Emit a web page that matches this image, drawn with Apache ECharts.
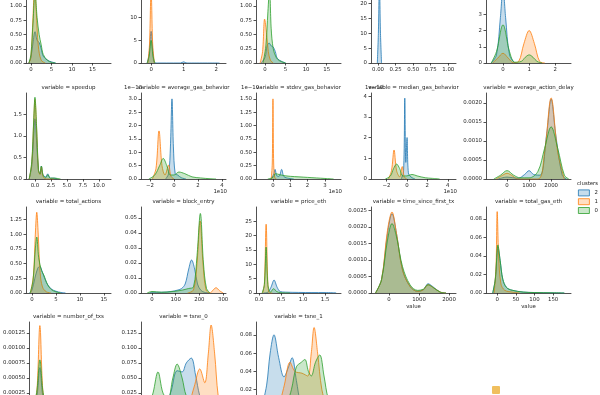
<!DOCTYPE html>
<html>
<head>
<meta charset="utf-8">
<script src="https://cdn.jsdelivr.net/npm/echarts@6/dist/echarts.min.js"></script>
<style>
html,body{margin:0;padding:0;background:#fff;overflow:hidden;width:600px;height:395px;}
#chart{position:absolute;left:0;top:-30px;width:600px;height:470px;}
</style>
</head>
<body>
<div id="chart"></div>
<script>
// ---------------- DATA ----------------
const clusters = ['2', '1', '0'];

// Row 1 (titles cut off above the picture)
const p1_c2 = [[-0.5,0],[0,0.1],[0.5,0.35],[1,0.55],[1.5,0.4],[2,0.36],[2.5,0.25],[3,0.12],[4,0.05],[5,0.02],[6,0]];
const p1_c1 = [[-0.5,0],[0,0.1],[0.5,0.8],[0.9,1.35],[1.3,0.9],[1.8,0.3],[2.5,0.05],[3.5,0]];
const p1_c0 = [[-0.5,0],[0,0.15],[0.5,0.7],[1,1.25],[1.5,0.8],[2,0.5],[2.5,0.32],[3,0.15],[4,0.05],[5,0.01],[6,0]];
const p1_xt = [0,5,10,15];
const p1_yt = [0,0.25,0.5,0.75,1,1.25,1.5];

const p2_c2 = [[-0.12,0],[-0.06,2],[0,7],[0.06,2],[0.12,0],[0.9,0],[1,0.25],[1.1,0],[2.1,0]];
const p2_c1 = [[-0.1,0],[-0.05,4],[0,16],[0.05,4],[0.1,0]];
const p2_c0 = [[-0.12,0],[-0.06,1.5],[0,5],[0.06,1.5],[0.12,0]];
const p2_xt = [0,1,2];
const p2_yt = [0,5,10,15];

const p3_c2 = [[-1,0],[0,0.1],[0.5,0.3],[1,0.35],[1.5,0.3],[2,0.28],[2.5,0.2],[3,0.08],[4,0.03],[5,0]];
const p3_c1 = [[-1.2,0],[-0.6,0.2],[-0.1,0.77],[0.4,0.5],[0.8,0.2],[1.3,0.05],[2,0]];
const p3_c0 = [[-0.5,0],[0.2,0.3],[0.7,0.9],[1.1,1.3],[1.5,0.6],[2,0.25],[2.7,0.1],[3.5,0.04],[5,0]];
const p3_xt = [0,5,10,15];
const p3_yt = [0,0.25,0.5,0.75,1,1.25,1.5];

const p4_c2 = [[-0.01,0],[0.005,10],[0.02,27],[0.035,10],[0.05,0]];
const p4_c1 = [];
const p4_c0 = [];
const p4_xt = [0,0.25,0.5,0.75,1];
const p4_yt = [0,5,10,15,20,25];

const p5_c2 = [[-0.45,0],[-0.25,0.5],[-0.1,2.8],[0,4.6],[0.1,2.8],[0.25,0.5],[0.45,0]];
const p5_c1 = [[-0.4,0],[-0.2,0.3],[0,0.6],[0.2,0.3],[0.4,0.02],[0.6,0.1],[0.8,1.2],[1,2.0],[1.2,1.2],[1.4,0.1],[1.6,0]];
const p5_c0 = [[-0.45,0],[-0.25,0.7],[0,2.35],[0.25,0.7],[0.45,0.05],[0.7,0.1],[0.85,0.35],[1,0.5],[1.15,0.35],[1.3,0.1],[1.5,0]];
const p5_xt = [0,1,2];
const p5_yt = [0,1,2,3,4,5];

// speedup
const speedup_c2 = [[-0.9,0],[-0.5,0.3],[-0.2,1.0],[0,1.4],[0.25,0.9],[0.55,0.2],[0.8,0.12],[1,0.3],[1.25,0.1],[1.7,0.05],[2,0.12],[2.4,0.02],[3,0.02],[3.5,0]];
const speedup_c1 = [[-0.9,0],[-0.5,0.35],[-0.2,1.3],[0,1.85],[0.25,1.2],[0.55,0.2],[0.8,0.1],[1,0.28],[1.3,0.05],[1.8,0],[3,0]];
const speedup_c0 = [[-0.9,0],[-0.5,0.4],[-0.2,1.35],[0,1.9],[0.25,1.25],[0.55,0.22],[0.8,0.12],[1,0.3],[1.3,0.08],[1.7,0.03],[2,0.1],[2.4,0.02],[3,0.02],[4,0]];
const speedup_xt = [0,2.5,5,7.5,10];
const speedup_yt = [0,0.5,1,1.5];

// average_gas_behavior (x in 1e10)
const avggas_c2 = [[-0.7,0],[-0.45,0.2],[-0.3,1.2],[-0.17,3.0],[-0.05,1.2],[0.1,0.2],[0.3,0.15],[0.6,0.05],[1,0]];
const avggas_c1 = [[-1.8,0],[-1.5,0.4],[-1.25,1.8],[-1.0,0.5],[-0.75,0.15],[-0.45,0.52],[-0.25,0.1],[0,0]];
const avggas_c0 = [[-2.1,0],[-1.6,0.15],[-1.2,0.5],[-0.9,0.77],[-0.6,0.5],[-0.3,0.15],[0,0.15],[0.4,0.26],[0.9,0.2],[1.5,0.08],[2.2,0.04],[3,0.01],[3.5,0]];
const avggas_xt = [-2,0,2,4];
const avggas_yt = [0,0.5,1,1.5,2,2.5,3];

// stdev_gas_behavior (x in 1e10)
const stdgas_c2 = [[-0.1,0],[0.05,0.1],[0.12,0.18],[0.22,0.06],[0.35,0.05],[0.5,0.18],[0.62,0.05],[0.8,0.02],[1.2,0]];
const stdgas_c1 = [[-0.1,0],[-0.04,0.3],[0,1.5],[0.04,0.3],[0.1,0.03],[0.2,0]];
const stdgas_c0 = [[-0.3,0],[0,0.03],[0.15,0.1],[0.4,0.08],[0.7,0.06],[1,0.05],[1.5,0.04],[2,0.03],[2.5,0.02],[3,0.01],[3.5,0]];
const stdgas_xt = [0,1,2,3];
const stdgas_yt = [0,0.25,0.5,0.75,1,1.25,1.5];

// median_gas_behavior (x in 1e10)
const medgas_c2 = [[-0.55,0],[-0.32,0.4],[-0.2,3.9],[-0.1,0.8],[0.02,2.0],[0.15,0.3],[0.4,0.1],[0.8,0]];
const medgas_c1 = [[-1.8,0],[-1.5,0.4],[-1.25,1.4],[-1.0,0.4],[-0.7,0.1],[-0.45,0.6],[-0.25,0.1],[0,0]];
const medgas_c0 = [[-2.1,0],[-1.6,0.15],[-1.3,0.5],[-1.0,0.72],[-0.7,0.5],[-0.4,0.15],[0,0.15],[0.5,0.22],[1,0.15],[1.8,0.06],[2.5,0.03],[3.2,0]];
const medgas_xt = [-2,0,2,4];
const medgas_yt = [0,1,2,3,4];

// average_action_delay
const delay_c2 = [[-400,0],[0,0.00005],[500,0.00002],[800,0.00012],[1000,0.00022],[1200,0.00012],[1500,0.0001],[1800,0.0012],[2000,0.0021],[2200,0.0012],[2500,0.0001],[2700,0]];
const delay_c1 = [[-500,0],[-200,0.0001],[0,0.00015],[200,0.0001],[500,0],[1400,0],[1700,0.0007],[2000,0.00213],[2300,0.0007],[2600,0]];
const delay_c0 = [[-600,0],[-300,0.0001],[0,0.00022],[300,0.0001],[600,0.00003],[1000,0.00003],[1400,0.0002],[1700,0.0008],[2000,0.00137],[2300,0.0008],[2600,0.0001],[2800,0]];
const delay_xt = [0,1000,2000];
const delay_yt = [0,0.0005,0.001,0.0015,0.002];

// total_actions
const actions_c2 = [[-0.5,0],[0,0.05],[0.6,0.25],[1.2,0.42],[1.6,0.45],[2.2,0.35],[3,0.18],[4,0.07],[5,0.03],[6,0.01],[7,0]];
const actions_c1 = [[-0.3,0],[0.3,0.3],[0.7,1.0],[1,1.37],[1.3,1.0],[1.7,0.35],[2.2,0.1],[3,0.02],[4,0]];
const actions_c0 = [[-0.4,0],[0.2,0.2],[0.7,0.75],[1,0.95],[1.4,0.6],[2,0.38],[2.5,0.3],[3.2,0.15],[4,0.06],[5,0.02],[6,0]];
const actions_xt = [0,5,10,15];
const actions_yt = [0,0.25,0.5,0.75,1,1.25];

// block_entry
const block_c2 = [[-10,0],[0,0.0005],[40,0.0005],[80,0.001],[110,0.002],[125,0.003],[140,0.006],[155,0.016],[167,0.022],[180,0.016],[192,0.006],[205,0.002],[220,0.0005],[240,0]];
const block_c1 = [[150,0],[175,0.002],[190,0.02],[203,0.048],[215,0.02],[228,0.002],[245,0],[255,0.0015],[270,0.0035],[285,0.0015],[300,0]];
const block_c0 = [[-20,0],[0,0.001],[40,0.0005],[90,0.001],[130,0.002],[155,0.003],[175,0.004],[190,0.025],[204,0.053],[217,0.02],[230,0.003],[245,0]];
const block_xt = [0,100,200,300];
const block_yt = [0,0.01,0.02,0.03,0.04,0.05];

// price_eth
const price_c2 = [[0.1,0],[0.2,0.3],[0.27,2],[0.34,4.5],[0.41,2],[0.48,0.5],[0.6,0.3],[0.9,0.2],[1.2,0.15],[1.5,0.15],[1.75,0.05]];
const price_c1 = [[0.08,0],[0.12,3],[0.16,24],[0.2,3],[0.24,0],[0.3,0]];
const price_c0 = [[0.07,0],[0.12,3],[0.16,16],[0.2,3],[0.26,0.3],[0.33,1.5],[0.4,0.5],[0.5,0.1],[0.7,0]];
const price_xt = [0,0.5,1,1.5];
const price_yt = [0,5,10,15,20,25];

// time_since_first_tx
const tsince_c2 = [[-450,0],[-250,0.0004],[-50,0.0018],[100,0.0024],[250,0.0018],[450,0.0007],[700,0.0002],[950,0.00005],[1150,0.0001],[1300,0.00028],[1450,0.0002],[1700,0.00003],[1900,0]];
const tsince_c1 = [[-450,0],[-250,0.0004],[-50,0.0019],[100,0.00245],[250,0.0018],[450,0.0007],[700,0.0002],[950,0.00005],[1150,0.0001],[1300,0.00025],[1450,0.00018],[1700,0.00003],[1900,0]];
const tsince_c0 = [[-450,0],[-250,0.0004],[-50,0.0016],[100,0.0021],[250,0.0017],[450,0.0008],[700,0.00025],[950,0.00008],[1150,0.00012],[1300,0.00025],[1450,0.00018],[1700,0.00003],[1900,0]];
const tsince_xt = [0,1000,2000];
const tsince_yt = [0,0.0005,0.001,0.0015,0.002,0.0025];

// total_gas_eth
const gaseth_c2 = [[-12,0],[-5,0.015],[2,0.05],[8,0.035],[15,0.015],[25,0.006],[40,0.003],[70,0.001],[100,0.0005],[150,0.0002],[180,0]];
const gaseth_c1 = [[-8,0],[-3,0.03],[0,0.088],[4,0.04],[10,0.01],[20,0.003],[40,0.001],[60,0]];
const gaseth_c0 = [[-12,0],[-5,0.015],[2,0.052],[8,0.035],[15,0.015],[25,0.006],[40,0.003],[70,0.001],[100,0.0005],[150,0.0002],[180,0]];
const gaseth_xt = [0,50,100,150];
const gaseth_yt = [0,0.02,0.04,0.06,0.08];

// number_of_txs
const ntx_c2 = [[-110,0],[-40,0.0002],[20,0.00067],[80,0.0002],[150,0]];
const ntx_c1 = [[-100,0],[-40,0.0003],[20,0.00137],[80,0.0003],[140,0]];
const ntx_c0 = [[-110,0],[-40,0.0003],[20,0.0008],[80,0.0003],[150,0]];
const ntx_xt = [0,500,1000,1500];
const ntx_yt = [0,0.00025,0.0005,0.00075,0.001,0.00125];

// tsne_0
const tsne0_c2 = [[-25,0],[-17,0.03],[-9,0.062],[-2,0.06],[4,0.075],[11,0.083],[17,0.055],[23,0.02],[30,0]];
const tsne0_c1 = [[0,0],[8,0.01],[15,0.035],[23,0.065],[30,0.042],[35,0.09],[39,0.138],[44,0.09],[49,0.02],[54,0]];
const tsne0_c0 = [[-50,0],[-43,0.025],[-36,0.06],[-29,0.025],[-22,0.015],[-15,0.05],[-9,0.073],[-2,0.05],[4,0.02],[12,0.01],[20,0.02],[28,0.015],[36,0.005],[45,0]];
const tsne0_xt = [-50,0,50];
const tsne0_yt = [0,0.025,0.05,0.075,0.1,0.125];

// tsne_1
const tsne1_c2 = [[-52,0],[-45,0.025],[-40,0.06],[-34.6,0.08],[-28,0.055],[-20.5,0.034],[-14,0.045],[-9,0.055],[-3,0.03],[3,0.005],[8,0]];
const tsne1_c1 = [[-28,0],[-20,0.025],[-12,0.05],[-5,0.04],[5,0.038],[13,0.035],[18,0.06],[22,0.088],[27,0.06],[33,0.02],[40,0.003],[45,0]];
const tsne1_c0 = [[-18,0],[-10,0.02],[-3,0.045],[4,0.05],[9,0.053],[14,0.04],[18,0.035],[24,0.05],[30,0.058],[36,0.035],[42,0.01],[49,0]];
const tsne1_xt = [-50,0,50];
const tsne1_yt = [0,0.02,0.04,0.06,0.08];

// ---------------- PANELS ----------------
const panels = [
  {t:'', r:0,c:0, d:[p1_c2,p1_c1,p1_c0], xr:[-1.2,19.5], xt:p1_xt, xd:0, yr:[0,1.51], yt:p1_yt, yd:2},
  {t:'', r:0,c:1, d:[p2_c2,p2_c1,p2_c0], xr:[-0.31,2.3], xt:p2_xt, xd:0, yr:[0,19], yt:p2_yt, yd:0},
  {t:'', r:0,c:2, d:[p3_c2,p3_c1,p3_c0], xr:[-2.2,18.5], xt:p3_xt, xd:0, yr:[0,1.51], yt:p3_yt, yd:2},
  {t:'', r:0,c:3, d:[p4_c2,p4_c1,p4_c0], xr:[-0.1,1.11], xt:p4_xt, xd:2, yr:[0,29], yt:p4_yt, yd:0},
  {t:'', r:0,c:4, d:[p5_c2,p5_c1,p5_c0], xr:[-0.65,2.6], xt:p5_xt, xd:0, yr:[0,5.3], yt:p5_yt, yd:0},
  {t:'variable = speedup', r:1,c:0, d:[speedup_c2,speedup_c1,speedup_c0], xr:[-1.4,11.9], xt:speedup_xt, xd:1, yr:[0,2.0], yt:speedup_yt, yd:1},
  {t:'variable = average_gas_behavior', r:1,c:1, d:[avggas_c2,avggas_c1,avggas_c0], xr:[-2.75,4.33], xt:avggas_xt, xd:0, yr:[0,3.22], yt:avggas_yt, yd:1, xo:'1e10', yo:'1e\u221210', yox:-17},
  {t:'variable = stdev_gas_behavior', r:1,c:2, d:[stdgas_c2,stdgas_c1,stdgas_c0], xr:[-0.98,3.93], xt:stdgas_xt, xd:0, yr:[0,1.61], yt:stdgas_yt, yd:2, xo:'1e10', yo:'1e\u221210', yox:-15},
  {t:'variable = median_gas_behavior', r:1,c:3, d:[medgas_c2,medgas_c1,medgas_c0], xr:[-3.5,4.8], xt:medgas_xt, xd:0, yr:[0,4.15], yt:medgas_yt, yd:0, xo:'1e10', yo:'1e\u221210', yox:-6},
  {t:'variable = average_action_delay', r:1,c:4, d:[delay_c2,delay_c1,delay_c0], xr:[-955,2900], xt:delay_xt, xd:0, yr:[0,0.00226], yt:delay_yt, yd:4},
  {t:'variable = total_actions', r:2,c:0, d:[actions_c2,actions_c1,actions_c0], xr:[-1.25,16.5], xt:actions_xt, xd:0, yr:[0,1.46], yt:actions_yt, yd:2},
  {t:'variable = block_entry', r:2,c:1, d:[block_c2,block_c1,block_c0], xr:[-46,312], xt:block_xt, xd:0, yr:[0,0.0573], yt:block_yt, yd:2},
  {t:'variable = price_eth', r:2,c:2, d:[price_c2,price_c1,price_c0], xr:[-0.07,1.86], xt:price_xt, xd:1, yr:[0,30], yt:price_yt, yd:0},
  {t:'variable = time_since_first_tx', r:2,c:3, d:[tsince_c2,tsince_c1,tsince_c0], xr:[-600,2233], xt:tsince_xt, xd:0, yr:[0,0.0026], yt:tsince_yt, yd:4, xl:'value'},
  {t:'variable = total_gas_eth', r:2,c:4, d:[gaseth_c2,gaseth_c1,gaseth_c0], xr:[-30,198], xt:gaseth_xt, xd:0, yr:[0,0.093], yt:gaseth_yt, yd:2, xl:'value'},
  {t:'variable = number_of_txs', r:3,c:0, d:[ntx_c2,ntx_c1,ntx_c0], xr:[-200,1500], xt:ntx_xt, xd:0, yr:[0,0.00143], yt:ntx_yt, yd:5},
  {t:'variable = tsne_0', r:3,c:1, d:[tsne0_c2,tsne0_c1,tsne0_c0], xr:[-60,60], xt:tsne0_xt, xd:0, yr:[0,0.143], yt:tsne0_yt, yd:3},
  {t:'variable = tsne_1', r:3,c:2, d:[tsne1_c2,tsne1_c1,tsne1_c0], xr:[-60,60], xt:tsne1_xt, xd:0, yr:[0,0.094], yt:tsne1_yt, yd:2}
];

// ---------------- LAYOUT / STYLE ----------------
const OFF = 30;
const LEFTS = [26, 141, 256, 371, 486];
const TOPS = [-23, 93, 207, 322];
const PW = 85, PH = 86;
const COLORS = {'2':'#1f77b4','1':'#ff7f0e','0':'#2ca02c'};
const FILLS = {'2':'rgba(31,119,180,0.25)','1':'rgba(255,127,14,0.25)','0':'rgba(44,160,44,0.25)'};
const FONT = 'DejaVu Sans';
const FS = 5.4;
const FT = 5.5;
const TXT = '#262626';

function fmt(v, d) {
  let s = Math.abs(v) < 1e-12 ? (0).toFixed(d) : v.toFixed(d);
  return s.replace('-', '\u2212');
}

const grid = [], xAxis = [], yAxis = [], series = [], graphic = [];
panels.forEach((p, i) => {
  const left = LEFTS[p.c], top = TOPS[p.r] + OFF;
  grid.push({left: left, top: top, width: PW, height: PH, containLabel: false});
  const axisLine = {show: true, onZero: false, lineStyle: {color: TXT, width: 0.8}};
  xAxis.push({
    gridIndex: i, type: 'value', min: p.xr[0], max: p.xr[1], position: 'bottom',
    axisLine: axisLine, splitLine: {show: false},
    axisTick: {show: true, length: 2.5, customValues: p.xt, lineStyle: {color: TXT, width: 0.8}},
    axisLabel: {customValues: p.xt, formatter: v => fmt(v, p.xd), fontSize: FS, fontFamily: FONT, color: TXT, margin: 4}
  });
  yAxis.push({
    gridIndex: i, type: 'value', min: p.yr[0], max: p.yr[1], position: 'left',
    axisLine: axisLine, splitLine: {show: false},
    axisTick: {show: true, length: 2.5, customValues: p.yt, lineStyle: {color: TXT, width: 0.8}},
    axisLabel: {customValues: p.yt, formatter: v => fmt(v, p.yd), fontSize: FS, fontFamily: FONT, color: TXT, margin: 4}
  });
  clusters.forEach((cl, k) => {
    series.push({
      type: 'line', name: cl, xAxisIndex: i, yAxisIndex: i, data: p.d[k],
      smooth: 0.35, symbol: 'none', showSymbol: false, silent: true, clip: true,
      lineStyle: {color: COLORS[cl], width: 0.8},
      itemStyle: {color: COLORS[cl]},
      areaStyle: {color: FILLS[cl], opacity: 1},
      z: 2 + k
    });
  });
  const cx = left + PW / 2;
  if (p.t) {
    graphic.push({type: 'text', x: cx, y: top - 5, z: 10,
      style: {text: p.t, fontSize: FT, fontFamily: FONT, fill: TXT, align: 'center', verticalAlign: 'middle'}});
  }
  if (p.xo) {
    graphic.push({type: 'text', x: left + PW + 1, y: top + PH + 13, z: 10,
      style: {text: p.xo, fontSize: FS, fontFamily: FONT, fill: TXT, align: 'right', verticalAlign: 'middle'}});
  }
  if (p.yo) {
    graphic.push({type: 'text', x: left + p.yox, y: top - 5, z: 10,
      style: {text: p.yo, fontSize: FS, fontFamily: FONT, fill: TXT, align: 'left', verticalAlign: 'middle'}});
  }
  if (p.xl) {
    graphic.push({type: 'text', x: cx, y: top + PH + 14, z: 10,
      style: {text: p.xl, fontSize: FS, fontFamily: FONT, fill: TXT, align: 'center', verticalAlign: 'middle'}});
  }
});

graphic.push({type: 'text', x: 577, y: 184 + OFF, z: 10,
  style: {text: 'clusters', fontSize: FS, fontFamily: FONT, fill: TXT, align: 'left', verticalAlign: 'middle'}});
graphic.push({type: 'rect', shape: {x: 492, y: 386 + OFF, width: 8, height: 8, r: 1}, z: 10,
  style: {fill: 'rgba(235,170,40,0.75)'}});

const option = {
  animation: false,
  backgroundColor: '#ffffff',
  grid: grid, xAxis: xAxis, yAxis: yAxis, series: series, graphic: graphic,
  legend: {
    orient: 'vertical', left: 578, top: 189.5 + OFF, itemWidth: 11, itemHeight: 6, itemGap: 2,
    padding: 0, icon: 'rect', selectedMode: false,
    textStyle: {fontSize: FS, fontFamily: FONT, color: TXT},
    data: clusters.map(c => ({name: c, icon: 'rect', itemStyle: {color: FILLS[c], borderColor: COLORS[c], borderWidth: 0.8}}))
  }
};
const chart = echarts.init(document.getElementById('chart'), null, {renderer: 'canvas'});
chart.setOption(option);
</script>
</body>
</html>
